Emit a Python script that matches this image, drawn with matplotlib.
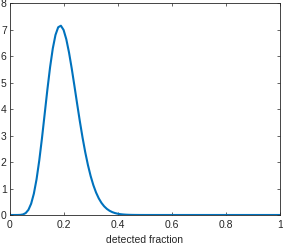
import matplotlib
matplotlib.use("Agg")
import matplotlib.pyplot as plt

# detected fraction (x) and density (y)
x_vals = [0.00, 0.01, 0.02, 0.03, 0.04, 0.05, 0.06, 0.07, 0.08, 0.09,
          0.10, 0.11, 0.12, 0.13, 0.14, 0.15, 0.16, 0.17, 0.18, 0.19,
          0.20, 0.21, 0.22, 0.23, 0.24, 0.25, 0.26, 0.27, 0.28, 0.29,
          0.30, 0.31, 0.32, 0.33, 0.34, 0.35, 0.36, 0.37, 0.38, 0.39,
          0.40, 0.41, 0.42, 0.43, 0.44, 0.45, 0.46, 0.48, 0.50, 0.55,
          1.00]
y_vals = [0.0, 0.0, 0.00002, 0.0005, 0.0044, 0.0217, 0.0742, 0.1957, 0.4269, 0.8046,
          1.3496, 2.0584, 2.8988, 3.8153, 4.7357, 5.5840, 6.2916, 6.8054, 7.0952, 7.1529,
          6.9917, 6.6407, 6.1412, 5.5395, 4.8803, 4.2040, 3.5447, 2.9285, 2.3722, 1.8855,
          1.4712, 1.1276, 0.8492, 0.6285, 0.4574, 0.3274, 0.2304, 0.1595, 0.1087, 0.0728,
          0.0480, 0.0311, 0.0198, 0.0125, 0.0077, 0.0047, 0.0028, 0.0010, 0.0003, 0.0,
          0.0]
x_ticks = [0, 0.2, 0.4, 0.6, 0.8, 1]
x_tick_labels = ["0", "0.2", "0.4", "0.6", "0.8", "1"]
y_ticks = [0, 1, 2, 3, 4, 5, 6, 7, 8]
x_label = "detected fraction"

plt.rcParams['font.family'] = ['Liberation Sans', 'DejaVu Sans']
axc = (0.15, 0.15, 0.15)

fig = plt.figure(figsize=(2.83, 2.45), dpi=100)
ax = fig.add_axes([9.5 / 283, 30 / 245, 270.5 / 283, 211.7 / 245])
ax.plot(x_vals, y_vals, color="#0072BD", lw=1.5)
ax.set_xlim(0, 1)
ax.set_ylim(0, 8)
ax.set_xticks(x_ticks)
ax.set_xticklabels(x_tick_labels)
ax.set_yticks(y_ticks)
for s in ax.spines.values():
    s.set_color(axc)
    s.set_linewidth(0.6)
ax.tick_params(direction="in", length=2.5, width=0.5, colors=axc,
               labelsize=7.5, top=True, right=True)
ax.tick_params(axis="x", pad=3.5)
ax.tick_params(axis="y", pad=2)
ax.set_xlabel(x_label, fontsize=7.5, color=axc, labelpad=4)
fig.savefig("out.png", dpi=100)
